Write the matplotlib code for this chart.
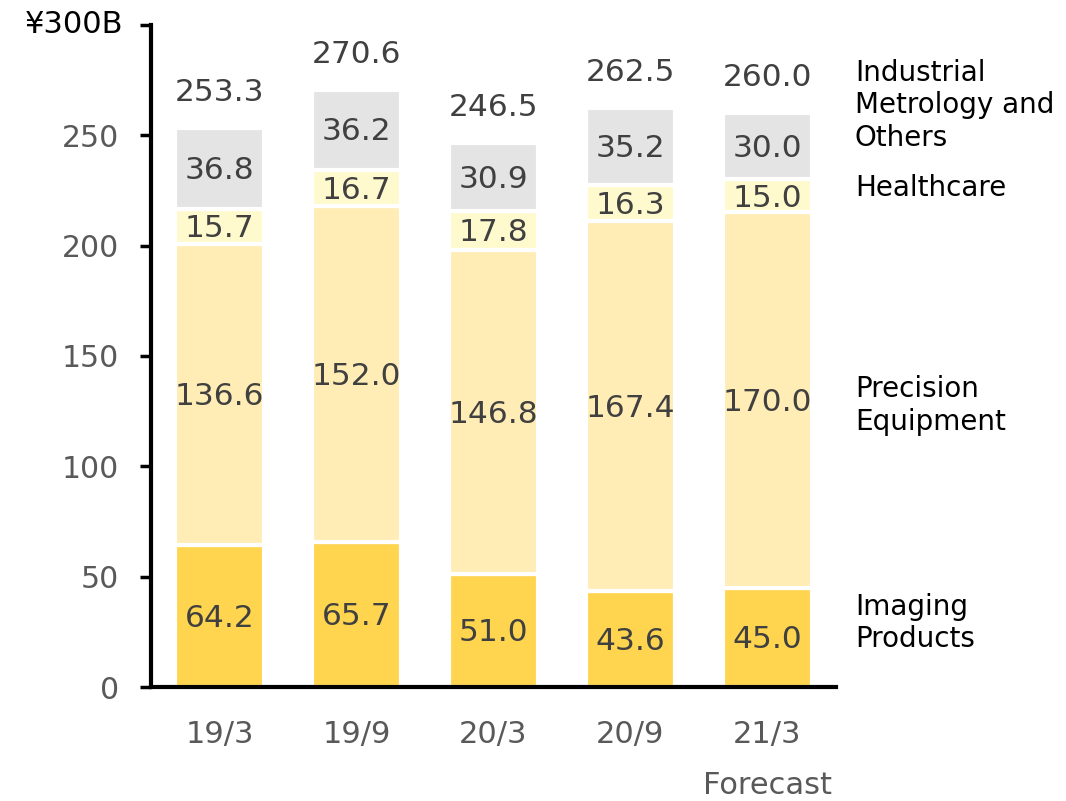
import matplotlib.pyplot as plt
import numpy as np

periods = ['19/3', '19/9', '20/3', '20/9', '21/3']
imaging = [64.2, 65.7, 51.0, 43.6, 45.0]
precision = [136.6, 152.0, 146.8, 167.4, 170.0]
healthcare = [15.7, 16.7, 17.8, 16.3, 15.0]
others = [36.8, 36.2, 30.9, 35.2, 30.0]
totals = [253.3, 270.6, 246.5, 262.5, 260.0]

segments = [imaging, precision, healthcare, others]
colors = ['#FFD54F', '#FFEDB5', '#FFFACD', '#E4E4E4']
names = ['Imaging\nProducts', 'Precision\nEquipment', 'Healthcare',
         'Industrial\nMetrology and\nOthers']
name_y = [29, 127.5, 226, 263.6]

fig = plt.figure(figsize=(10.66, 8.01), dpi=100)
ax = fig.add_axes([0.1417, 0.1423, 0.784 - 0.1417, 0.969 - 0.1423])

x = np.arange(len(periods))
bottom = np.zeros(len(periods))
for vals, c in zip(segments, colors):
    vals = np.array(vals)
    ax.bar(x, vals, bottom=bottom, width=0.65, color=c, edgecolor='white', linewidth=3)
    for xi, b, v in zip(x, bottom, vals):
        ax.text(xi, b + v / 2 - 1, f'{v:.1f}', ha='center', va='center',
                fontsize=22.5, color='#404040')
    bottom += vals

for xi, t in zip(x, totals):
    ax.text(xi, t + 16, f'{t:.1f}', ha='center', va='center', fontsize=22.5, color='#404040')

for n, yv in zip(names, name_y):
    ax.text(4.64, yv, n, ha='left', va='center', fontsize=20, color='black',
            linespacing=1.2, clip_on=False)

ax.set_xlim(-0.5, 4.5)
ax.set_ylim(0, 300)
ax.set_xticks(x)
ax.set_xticklabels(periods)
ax.set_yticks([0, 50, 100, 150, 200, 250, 300])
ax.set_yticklabels(['0', '50', '100', '150', '200', '250', ''])
ax.annotate('¥300B', xy=(0, 300), xycoords=('axes fraction', 'data'),
            xytext=(-20, 0), textcoords='offset points', ha='right', va='center',
            fontsize=22, color='black')

ax.tick_params(axis='x', length=0, pad=24, labelsize=22, labelcolor='#595959')
ax.tick_params(axis='y', length=8, width=2.5, pad=15, labelsize=21.5, labelcolor='#595959')

ax.text(4, -0.148, 'Forecast', transform=ax.get_xaxis_transform(), ha='center', va='center',
        fontsize=22, color='#595959', clip_on=False)

for s in ['top', 'right']:
    ax.spines[s].set_visible(False)
for s in ['left', 'bottom']:
    ax.spines[s].set_linewidth(3)

fig.savefig('out.png', dpi=100)
